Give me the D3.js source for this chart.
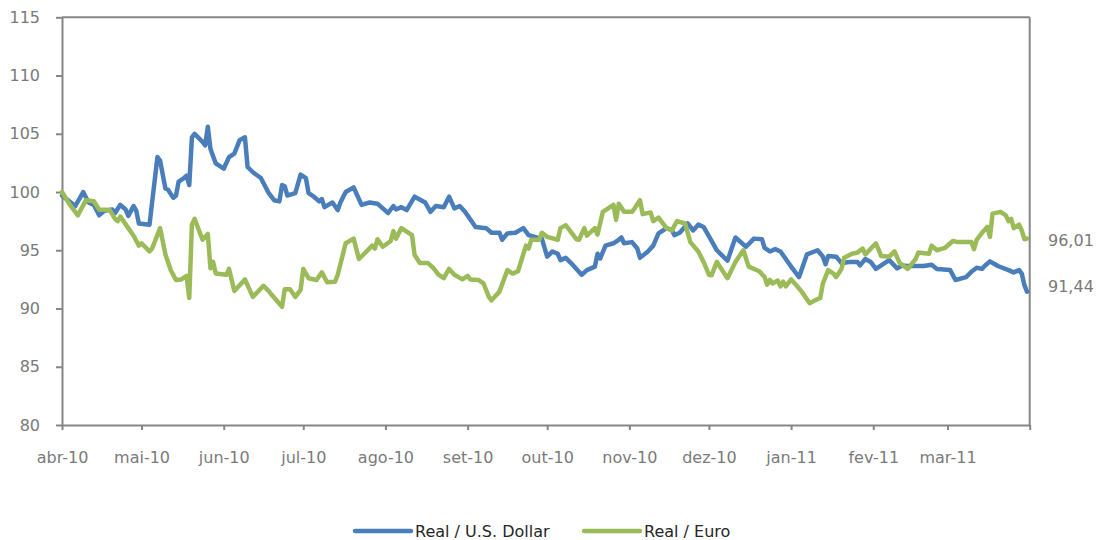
<!DOCTYPE html>
<html>
<head>
<meta charset="utf-8">
<script src="https://d3js.org/d3.v7.min.js"></script>
<style>
  html, body { margin: 0; padding: 0; background: #fff; }
  svg text { font-family: "DejaVu Sans", Verdana, sans-serif; }
</style>
</head>
<body>
<div id="chart"></div>
<script>
// Real vs U.S. Dollar / Euro, index (Apr 2010 = 100)
// days = days since 1 Apr 2010

const monthLabels = ["abr-10", "mai-10", "jun-10", "jul-10", "ago-10", "set-10",
  "out-10", "nov-10", "dez-10", "jan-11", "fev-11", "mar-11"];
const yTicks = [80, 85, 90, 95, 100, 105, 110, 115];
const seriesNames = ["Real / U.S. Dollar", "Real / Euro"];
const endLabels = ["91,44", "96,01"];

const usdDays = [0, 5, 8, 10, 12, 14, 16, 19, 20, 22, 24, 25, 27, 28, 29, 33, 36, 37, 39, 40,
  42, 43, 44, 46, 47, 48, 49, 50, 53, 54, 55, 56, 58, 60, 61, 63, 65, 67, 69, 70,
  72, 75, 78, 80, 82, 83, 84, 85, 88, 90, 92, 93, 95, 97, 98, 99, 102, 104, 105, 107,
  110, 111, 113, 116, 119, 121, 123, 125, 126, 128, 130, 133, 137, 139, 141, 144, 146, 148, 150, 152,
  156, 160, 162, 165, 166, 168, 171, 174, 176, 179, 181, 183, 185, 187, 188, 190, 192, 196, 198, 201,
  202, 203, 205, 208, 210, 211, 212, 215, 217, 218, 221, 223, 225, 228, 230, 231, 233, 236, 238, 240,
  242, 245, 247, 251, 254, 258, 261, 264, 265, 267, 269, 271, 275, 278, 281, 285, 287, 288, 289, 292,
  294, 297, 300, 301, 303, 305, 307, 309, 312, 315, 317, 319, 325, 328, 330, 335, 337, 341, 343, 345,
  347, 348, 350, 353, 357, 359, 361, 362, 363, 364];
const usdValues = [99.7, 98.8, 100.0, 99.1, 98.9, 98.0, 98.4, 98.5, 98.2, 98.9, 98.5, 97.95, 98.8, 98.4, 97.3, 97.2, 103.0, 102.7, 100.3, 100.2,
  99.5, 99.7, 100.9, 101.2, 101.4, 100.6, 104.7, 105.0, 104.3, 104.0, 105.6, 103.7, 102.45, 102.15, 102.0, 103.0, 103.3, 104.45, 104.7, 102.15,
  101.7, 101.2, 99.9, 99.3, 99.2, 100.6, 100.5, 99.7, 99.9, 101.5, 101.2, 99.9, 99.6, 99.2, 99.4, 98.7, 99.1, 98.45, 99.1, 100.0,
  100.4, 99.9, 98.9, 99.1, 99.0, 98.6, 98.2, 98.8, 98.5, 98.7, 98.45, 99.6, 99.1, 98.3, 98.8, 98.7, 99.6, 98.6, 98.8, 98.3,
  97.0, 96.9, 96.5, 96.5, 95.9, 96.45, 96.5, 96.9, 96.3, 96.1, 96.0, 94.45, 94.9, 94.7, 94.15, 94.35, 93.9, 92.9, 93.3, 93.6,
  94.7, 94.3, 95.4, 95.6, 95.9, 96.1, 95.6, 95.7, 95.15, 94.35, 94.9, 95.4, 96.45, 96.9, 96.75, 96.3, 96.5, 97.3, 96.7, 97.2,
  97.0, 95.8, 95.0, 94.1, 96.1, 95.3, 96.0, 95.95, 95.2, 94.9, 95.1, 94.9, 93.6, 92.7, 94.65, 95.0, 94.45, 93.8, 94.5, 94.45,
  93.9, 94.0, 94.0, 93.7, 94.25, 94.0, 93.4, 93.7, 94.15, 93.45, 93.7, 93.65, 93.65, 93.75, 93.4, 93.3, 92.45, 92.7, 93.15, 93.5,
  93.4, 93.65, 94.05, 93.65, 93.3, 93.1, 93.3, 93.0, 92.0, 91.44];

const eurDays = [0, 3, 6, 9, 12, 14, 18, 20, 21, 22, 25, 27, 29, 30, 33, 34, 37, 39, 41, 43,
  45, 47, 48, 49, 50, 53, 55, 56, 57, 58, 62, 63, 65, 69, 72, 76, 78, 79, 83, 84,
  86, 88, 90, 91, 93, 96, 98, 100, 103, 104, 107, 110, 112, 114, 117, 118, 119, 121, 124, 125,
  126, 128, 132, 133, 135, 138, 140, 142, 144, 146, 148, 151, 153, 154, 157, 159, 161, 162, 165, 168,
  170, 172, 175, 176, 177, 180, 181, 183, 187, 188, 190, 194, 195, 197, 198, 201, 202, 204, 208, 209,
  210, 212, 215, 216, 218, 219, 222, 223, 225, 228, 230, 232, 235, 237, 240, 242, 244, 245, 247, 251,
  254, 257, 259, 263, 265, 266, 267, 268, 270, 271, 272, 273, 275, 277, 279, 282, 284, 286, 287, 289,
  291, 292, 294, 295, 298, 300, 302, 303, 307, 309, 312, 314, 316, 319, 322, 323, 327, 328, 330, 333,
  336, 338, 343, 344, 345, 347, 349, 350, 351, 354, 356, 357, 358, 359, 361, 362, 363, 364];
const eurValues = [100.0, 98.9, 98.0, 99.3, 99.2, 98.5, 98.45, 97.7, 97.5, 97.9, 96.9, 96.25, 95.4, 95.6, 94.9, 95.15, 96.9, 94.65, 93.3, 92.45,
  92.5, 92.8, 90.9, 97.2, 97.7, 95.9, 96.4, 93.45, 94.0, 93.0, 92.9, 93.4, 91.5, 92.5, 91.0, 91.95, 91.5, 91.2, 90.15, 91.65,
  91.65, 91.0, 91.6, 93.4, 92.6, 92.45, 93.1, 92.25, 92.3, 92.9, 95.6, 96.0, 94.25, 94.7, 95.4, 95.15, 95.95, 95.3, 95.8, 96.65,
  96.0, 96.9, 96.3, 94.6, 93.9, 93.9, 93.5, 92.9, 92.6, 93.4, 92.9, 92.5, 92.8, 92.5, 92.45, 92.15, 91.0, 90.7, 91.45, 93.3,
  93.0, 93.2, 95.4, 95.15, 95.9, 95.9, 96.5, 96.15, 95.9, 96.9, 97.15, 95.95, 95.9, 96.9, 96.25, 96.9, 96.35, 98.3, 98.9, 97.6,
  99.0, 98.3, 98.3, 98.6, 99.3, 98.1, 98.25, 97.5, 97.8, 96.9, 96.7, 97.5, 97.3, 95.7, 94.9, 94.0, 92.9, 92.85, 94.0, 92.6,
  94.0, 95.0, 93.6, 93.2, 92.7, 92.05, 92.45, 92.15, 92.4, 91.9, 92.3, 91.9, 92.5, 92.0, 91.45, 90.45, 90.7, 90.9, 92.15, 93.3,
  93.0, 92.7, 93.4, 94.35, 94.7, 94.8, 95.15, 94.65, 95.6, 94.5, 94.45, 94.9, 93.9, 93.4, 94.25, 94.8, 94.7, 95.4, 95.0, 95.2,
  95.8, 95.7, 95.7, 95.1, 95.9, 96.5, 97.0, 96.15, 98.15, 98.3, 98.0, 97.5, 97.7, 96.9, 97.2, 96.7, 95.95, 96.01];

const width = 1098, height = 540;
const colors = ["#4a7ebb", "#9bbb59"];
const axisColor = "#868686";
const textColor = "#7a7a7a";
const fontSize = 16;

const start = new Date(2010, 3, 1);
const end = new Date(2011, 3, 1);

const svg = d3.select("#chart").append("svg")
  .attr("width", width)
  .attr("height", height);

const x = d3.scaleTime().domain([start, end]).range([62, 1029.7]);
const y = d3.scaleLinear().domain([80, 115]).range([425, 17.3]);

const toPoints = (days, values) => days.map((d, i) => ({
  date: d3.timeDay.offset(start, d),
  value: values[i]
}));
const series = [toPoints(usdDays, usdValues), toPoints(eurDays, eurValues)];

// frame: top and right border
svg.append("line")
  .attr("x1", x.range()[0]).attr("x2", x.range()[1])
  .attr("y1", y(115)).attr("y2", y(115))
  .attr("stroke", axisColor).attr("stroke-width", 2);
svg.append("line")
  .attr("x1", x.range()[1]).attr("x2", x.range()[1])
  .attr("y1", y(115)).attr("y2", y(80))
  .attr("stroke", axisColor).attr("stroke-width", 2);

// y axis
const yAxis = svg.append("g")
  .attr("transform", `translate(${x.range()[0]},0)`)
  .call(d3.axisLeft(y).tickValues(yTicks).tickSize(6).tickSizeOuter(0).tickPadding(16));
yAxis.select(".domain").attr("stroke", axisColor).attr("stroke-width", 2);
yAxis.selectAll(".tick line").attr("stroke", axisColor).attr("stroke-width", 2);
yAxis.selectAll("text")
  .attr("fill", textColor)
  .style("font-size", fontSize + "px");

// x axis
const monthTicks = d3.timeMonth.range(start, d3.timeDay.offset(end, 1));
const xAxis = svg.append("g")
  .attr("transform", `translate(0,${y(80)})`)
  .call(d3.axisBottom(x).tickValues(monthTicks).tickSize(5).tickSizeOuter(0)
    .tickPadding(22).tickFormat((d, i) => monthLabels[i] || ""));
xAxis.select(".domain").attr("stroke", axisColor).attr("stroke-width", 2);
xAxis.selectAll(".tick line").attr("stroke", axisColor).attr("stroke-width", 2);
xAxis.selectAll("text")
  .attr("fill", textColor)
  .style("font-size", fontSize + "px");

// lines
const line = d3.line()
  .x(d => x(d.date))
  .y(d => y(d.value));

svg.selectAll(".series")
  .data(series)
  .enter()
  .append("path")
  .attr("class", "series")
  .attr("d", line)
  .attr("fill", "none")
  .attr("stroke", (d, i) => colors[i])
  .attr("stroke-width", 4.5)
  .attr("stroke-linejoin", "round")
  .attr("stroke-linecap", "round");

// end value labels
const endOffsets = [-5, 1.5];
svg.selectAll(".end-label")
  .data(series)
  .enter()
  .append("text")
  .attr("class", "end-label")
  .attr("x", 1048)
  .attr("y", (d, i) => y(d[d.length - 1].value) + endOffsets[i])
  .attr("dy", "0.35em")
  .attr("fill", textColor)
  .style("font-size", fontSize + "px")
  .text((d, i) => endLabels[i]);

// legend
const legendX = [355, 584];
const legend = svg.selectAll(".legend")
  .data(seriesNames)
  .enter()
  .append("g")
  .attr("class", "legend")
  .attr("transform", (d, i) => `translate(${legendX[i]},531)`);
legend.append("line")
  .attr("x1", 0).attr("x2", 56)
  .attr("stroke", (d, i) => colors[i])
  .attr("stroke-width", 4.5)
  .attr("stroke-linecap", "round");
legend.append("text")
  .attr("x", 60)
  .attr("dy", "0.35em")
  .attr("fill", "#262626")
  .style("font-size", fontSize + "px")
  .text(d => d);
</script>
</body>
</html>
